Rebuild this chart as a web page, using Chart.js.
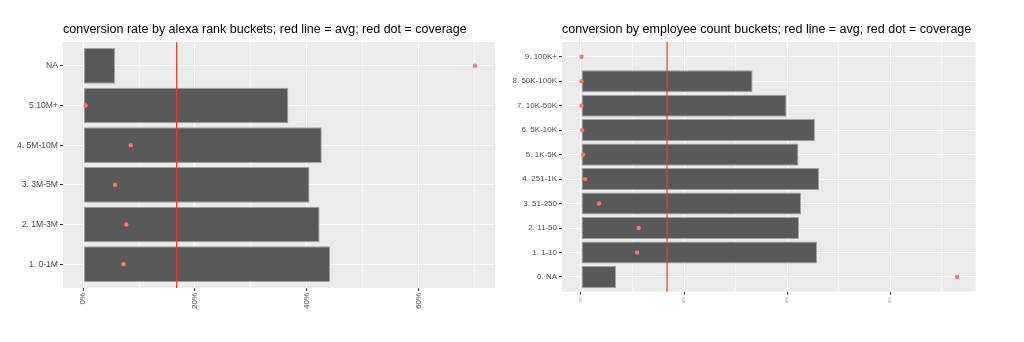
<!DOCTYPE html>
<html>
<head>
<meta charset="utf-8">
<title>Conversion by bucket</title>
<script src="https://cdn.jsdelivr.net/npm/chart.js@4/dist/chart.umd.min.js"></script>
<style>
  html, body { margin: 0; padding: 0; background: #ffffff; }
  #wrap { position: relative; width: 1024px; height: 342px; overflow: hidden; }
  .panel { position: absolute; top: 0; height: 342px; width: 512px; }
  #left { left: 0; }
  #right { left: 512px; }
</style>
</head>
<body>
<div id="wrap">
  <div class="panel" id="left"><canvas id="alexaChart" width="512" height="342"></canvas></div>
  <div class="panel" id="right"><canvas id="employeeChart" width="512" height="342"></canvas></div>
</div>
<script>
// ---- data (percent) ----
const alexaBuckets = ['1. 0-1M', '2. 1M-3M', '3. 3M-5M', '4. 5M-10M', '5.10M+', 'NA'];
const alexaConversion = [44.2, 42.3, 40.5, 42.7, 36.7, 5.7];
const alexaCoverage = [7.2, 7.7, 5.7, 8.5, 0.4, 70.1];
const alexaAvg = 16.7;

const employeeBuckets = ['0. NA', '1. 1-10', '2. 11-50', '3. 51-250', '4. 251-1K', '5. 1K-5K',
                         '6. 5K-10K', '7. 10K-50K', '8. 50K-100K', '9. 100K+'];
const employeeConversion = [6.8, 45.8, 42.3, 42.7, 46.2, 42.2, 45.4, 39.9, 33.3, null];
const employeeCoverage = [73.0, 10.9, 11.2, 3.5, 0.8, 0.4, 0.2, 0.1, 0.1, 0.1];
const employeeAvg = 16.7;

const xMajorTicks = [0, 20, 40, 60];
const xTickLabels = ['0%', '20%', '40%', '60%'];
const xMinorTicks = [10, 30, 50, 70];

// ---- styling ----
Chart.defaults.font.family = "'Liberation Sans', Arial, Helvetica, sans-serif";
const PANEL_BG = '#EBEBEB';
const BAR_FILL = '#595959';
const BAR_EDGE = '#a3a3a3';
const DOT = '#F8766D';
const AVG_LINE = '#f03a26';
const AXIS_TEXT = '#4d4d4d';
const TICK_MARK = '#333333';

// grey panel behind the grid, and the average line over the bars
function panelPlugin(avg) {
  return {
    id: 'panel',
    beforeDraw(chart) {
      const a = chart.chartArea, c = chart.ctx;
      c.save();
      c.fillStyle = PANEL_BG;
      c.fillRect(a.left, a.top, a.right - a.left, a.bottom - a.top);
      c.restore();
    },
    afterDatasetsDraw(chart) {
      const a = chart.chartArea, c = chart.ctx;
      const x = chart.scales.x.getPixelForValue(avg);
      c.save();
      c.strokeStyle = AVG_LINE;
      c.lineWidth = 1.2;
      c.beginPath();
      c.moveTo(x, a.top);
      c.lineTo(x, a.bottom);
      c.stroke();
      c.restore();
    }
  };
}

function buildChart(canvasId, cfg) {
  const n = cfg.categories.length;
  const allTicks = xMajorTicks.concat(xMinorTicks).sort((a, b) => a - b);
  return new Chart(document.getElementById(canvasId), {
    type: 'bar',
    data: {
      datasets: [
        {
          type: 'bar',
          indexAxis: 'y',
          data: cfg.conversion.map((v, i) => ({ x: v, y: i })),
          backgroundColor: BAR_FILL,
          borderColor: BAR_EDGE,
          borderWidth: 1,
          borderSkipped: false,
          categoryPercentage: 1.0,
          barPercentage: 0.9,
          order: 2
        },
        {
          type: 'scatter',
          data: cfg.coverage.map((v, i) => ({ x: v, y: i })),
          backgroundColor: DOT,
          borderWidth: 0,
          pointRadius: 2.2,
          order: 1
        }
      ]
    },
    options: {
      responsive: false,
      animation: false,
      devicePixelRatio: 1,
      layout: { padding: { left: 0, right: cfg.padRight, top: 0, bottom: 0 } },
      plugins: {
        legend: { display: false },
        tooltip: { enabled: false },
        title: {
          display: true,
          text: cfg.title,
          align: 'start',
          fullSize: false,
          color: '#000000',
          font: { size: 12.5, weight: 'normal', lineHeight: 1.2 },
          padding: { top: 22, bottom: 5 }
        }
      },
      scales: {
        x: {
          type: 'linear',
          position: 'bottom',
          offset: false,
          min: cfg.xMin,
          max: cfg.xMax,
          afterBuildTicks(scale) {
            scale.ticks = allTicks.map(v => ({ value: v }));
          },
          afterFit(scale) { scale.height = cfg.xAxisHeight; },
          border: { display: false },
          grid: {
            offset: false,
            color: '#ffffff',
            lineWidth: ctx => (ctx.tick && xMajorTicks.includes(ctx.tick.value)) ? 1.1 : 0.55,
            drawTicks: true,
            tickLength: 3,
            tickWidth: 1,
            tickColor: ctx => (ctx.tick && xMajorTicks.includes(ctx.tick.value)) ? TICK_MARK : 'rgba(0,0,0,0)'
          },
          ticks: {
            autoSkip: false,
            minRotation: 90,
            maxRotation: 90,
            padding: 2,
            color: cfg.xTickColor,
            font: { size: cfg.xTickSize },
            callback(value) {
              const k = xMajorTicks.indexOf(value);
              return k >= 0 ? xTickLabels[k] : '';
            }
          }
        },
        y: {
          type: 'linear',
          position: 'left',
          offset: false,
          min: -0.6,
          max: n - 1 + 0.6,
          afterBuildTicks(scale) {
            scale.ticks = cfg.categories.map((c, i) => ({ value: i }));
          },
          afterFit(scale) { scale.width = cfg.yAxisWidth; },
          border: { display: false },
          grid: {
            offset: false,
            color: '#ffffff',
            lineWidth: 1.1,
            drawTicks: true,
            tickLength: 3,
            tickWidth: 1,
            tickColor: TICK_MARK
          },
          ticks: {
            autoSkip: false,
            padding: 2,
            color: AXIS_TEXT,
            font: { size: cfg.yTickSize },
            callback(value) { return cfg.categories[value]; }
          }
        }
      }
    },
    plugins: [panelPlugin(cfg.avg)]
  });
}

buildChart('alexaChart', {
  title: 'conversion rate by alexa rank buckets; red line = avg; red dot = coverage',
  categories: alexaBuckets,
  conversion: alexaConversion,
  coverage: alexaCoverage,
  avg: alexaAvg,
  xMin: -3.63, xMax: 73.7,
  padRight: 17,
  yAxisWidth: 63,
  xAxisHeight: 54,
  yTickSize: 8.6,
  xTickSize: 8,
  xTickColor: AXIS_TEXT
});

buildChart('employeeChart', {
  title: 'conversion by employee count buckets; red line = avg; red dot = coverage',
  categories: employeeBuckets,
  conversion: employeeConversion,
  coverage: employeeCoverage,
  avg: employeeAvg,
  xMin: -3.69, xMax: 76.6,
  padRight: 48.3,
  yAxisWidth: 50,
  xAxisHeight: 50.3,
  yTickSize: 8,
  xTickSize: 3.3,
  xTickColor: '#9a9a9a'
});
</script>
</body>
</html>
